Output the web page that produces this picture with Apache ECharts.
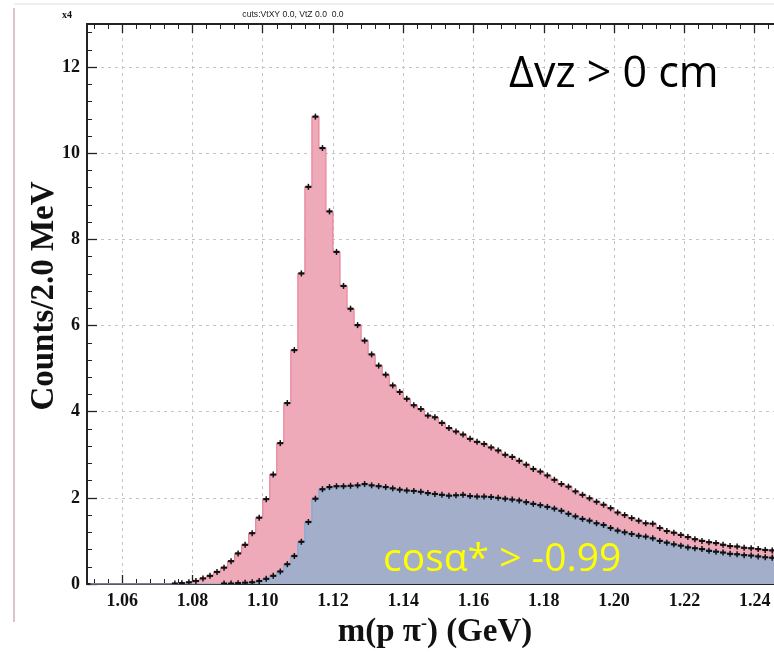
<!DOCTYPE html>
<html><head><meta charset="utf-8">
<script src="https://cdn.jsdelivr.net/npm/echarts@6/dist/echarts.min.js"></script>
<style>html,body{margin:0;padding:0;background:#fff}#c{width:774px;height:652px}</style>
</head><body><div id="c"></div>
<script>
// Histogram binning (GeV): 2 MeV bins starting at 1.050
const binStart = 1.050;
const binWidth = 0.002;

// Counts per bin, all candidates (pink)
const totalCounts = [0,0,0,0,0,0,0,0,0,0,0,0,
  0.01,0.02,0.04,0.07,0.13,0.19,0.28,0.38,0.53,0.71,
  0.91,1.18,1.54,1.97,2.54,3.27,4.20,5.43,7.21,9.22,
  10.85,10.12,8.65,7.71,6.92,6.39,6.01,5.65,5.33,5.07,
  4.86,4.61,4.46,4.30,4.15,4.06,3.91,3.87,3.74,3.62,
  3.54,3.47,3.37,3.30,3.25,3.17,3.10,3.00,2.95,2.86,
  2.77,2.67,2.61,2.52,2.42,2.32,2.26,2.15,2.07,1.99,
  1.91,1.84,1.76,1.66,1.60,1.53,1.47,1.41,1.40,1.30,
  1.23,1.19,1.14,1.09,1.04,1.00,0.97,0.95,0.91,0.88,
  0.87,0.84,0.83,0.81,0.79,0.78,0.76,0.75];

// Counts per bin, cos(alpha*) > -0.99 (blue)
const cutCounts = [0,0,0,0,0,0,0,0,0,0,0,0,0,0,0,0,0,0,0,
  0.01,0.01,0.02,0.03,0.04,0.07,0.12,0.19,0.29,0.46,
  0.65,0.98,1.44,1.98,2.20,2.25,2.27,2.27,2.28,2.29,
  2.32,2.29,2.27,2.25,2.22,2.19,2.17,2.16,2.14,2.11,
  2.09,2.07,2.05,2.06,2.07,2.04,2.03,2.03,2.02,2.00,
  1.98,1.96,1.94,1.90,1.86,1.83,1.79,1.75,1.70,1.63,
  1.57,1.51,1.47,1.41,1.37,1.30,1.24,1.20,1.16,1.12,
  1.10,1.06,1.00,0.96,0.92,0.89,0.85,0.83,0.81,0.77,
  0.75,0.73,0.70,0.69,0.67,0.66,0.64,0.62,0.61,0.60,0.59];

// Axis tick labels
const xTickValues = [1.06,1.08,1.10,1.12,1.14,1.16,1.18,1.20,1.22,1.24];
const yTickValues = [0,2,4,6,8,10,12];

// Visible axis range (the right side of the frame is cut by the picture edge)
const xMin = 1.05, xMax = 1.2455, yMin = 0, yMax = 13;

const centers = totalCounts.map((_, i) => +(binStart + binWidth * (i + 0.5)).toFixed(4));
const pairs = arr => arr.map((v, i) => [centers[i], v]);

// minor tick positions: 5 subdivisions of each major interval
const xMinor = [];
for (let m = -2; m <= 50; m++) { const v = +(1.06 + 0.004 * m).toFixed(4); if (m % 5 !== 0 && v > xMin && v < xMax) xMinor.push(v); }
const yMinor = [];
for (let m = 1; m <= 40; m++) { const v = +(0.4 * m).toFixed(2); if (m % 5 !== 0 && v < yMax) yMinor.push(v); }

function markerSeries(values, z) {
  return {
    type: 'custom', z: z, clip: true, silent: true,
    data: pairs(values).filter(d => d[1] > 0),
    renderItem: function (params, api) {
      const x = api.value(0), y = api.value(1);
      const c = api.coord([x, y]);
      const l = api.coord([x - binWidth / 2, y]);
      const r = api.coord([x + binWidth / 2, y]);
      return {
        type: 'group', children: [
          { type: 'line', shape: { x1: l[0] + 0.5, y1: c[1], x2: r[0] - 0.5, y2: c[1] }, style: { stroke: '#111', lineWidth: 2.2 } },
          { type: 'line', shape: { x1: c[0], y1: c[1] - 3, x2: c[0], y2: c[1] + 3 }, style: { stroke: '#111', lineWidth: 1.5 } }
        ]
      };
    }
  };
}

const chart = echarts.init(document.getElementById('c'), null, { renderer: 'canvas' });
const serif = '"Liberation Serif", "Times New Roman", serif';
const axisColor = '#222';

function xAx(pos, main) {
  return {
    type: 'value', min: xMin, max: xMax, splitNumber: 10, position: pos,
    axisLine: { show: main, onZero: false, lineStyle: { color: axisColor, width: 2 } },
    axisTick: { show: true, inside: true, length: main ? 9 : 5, customValues: main ? xTickValues : xMinor, lineStyle: { color: axisColor, width: main ? 1.3 : 1 } },
    minorTick: { show: false },
    axisLabel: (main && pos === 'bottom') ? { customValues: xTickValues, formatter: v => v.toFixed(2), fontFamily: serif, fontWeight: 'bold', fontSize: 18, color: '#111', margin: 8 } : { show: false },
    splitLine: (main && pos === 'bottom') ? { show: true, lineStyle: { color: '#c4c4c4', type: [3, 4], width: 1 } } : { show: false }
  };
}
function yAx(main) {
  return {
    type: 'value', min: yMin, max: yMax, interval: 2, position: 'left',
    axisLine: { show: main, onZero: false, lineStyle: { color: axisColor, width: 2 } },
    axisTick: { show: true, inside: true, length: main ? 10 : 5, customValues: main ? yTickValues : yMinor, lineStyle: { color: axisColor, width: main ? 1.3 : 1 } },
    minorTick: { show: false },
    axisLabel: main ? { customValues: yTickValues, fontFamily: serif, fontWeight: 'bold', fontSize: 18, color: '#111', margin: 7 } : { show: false },
    splitLine: main ? { show: true, lineStyle: { color: '#c4c4c4', type: [3, 4], width: 1 } } : { show: false }
  };
}

chart.setOption({
  backgroundColor: '#ffffff',
  animation: false,
  grid: { left: 87, top: 24, right: 0, height: 560, containLabel: false, outerBoundsMode: 'none' },
  xAxis: [xAx('bottom', true), xAx('top', true), xAx('bottom', false), xAx('top', false)],
  yAxis: [yAx(true), yAx(false)],
  series: [{
    type: 'line', step: 'middle', symbol: 'none', z: 2,
    data: pairs(totalCounts),
    lineStyle: { color: '#E8849A', width: 1.2 },
    areaStyle: { color: '#EEAAB8', opacity: 1 }
  }, {
    type: 'line', step: 'middle', symbol: 'none', z: 3,
    data: pairs(cutCounts),
    lineStyle: { color: '#7FAAD6', width: 1.2 },
    areaStyle: { color: '#A2AECA', opacity: 1 }
  },
  markerSeries(totalCounts, 5),
  markerSeries(cutCounts, 6)
  ],
  graphic: [
    { type: 'line', shape: { x1: 14, y1: 8, x2: 14, y2: 622 }, style: { stroke: '#b88a94', lineWidth: 1 }, z: 1 },
    { type: 'line', shape: { x1: 14, y1: 4, x2: 774, y2: 4 }, style: { stroke: '#dddddd', lineWidth: 1 }, z: 1 },
    { type: 'text', x: 62, y: 15, style: { text: 'x4', font: 'bold 10px ' + serif, fill: '#111', verticalAlign: 'middle' }, z: 20 },
    { type: 'text', x: 293, y: 15, style: { text: 'cuts:VtXY 0.0, VtZ 0.0  0.0', font: '8.6px "Liberation Sans", Arial, sans-serif', fill: '#222', align: 'center', verticalAlign: 'middle' }, z: 20 },
    { type: 'text', x: 509, y: 75, style: { text: 'Δvz > 0 cm', font: '43px "Open Sans", sans-serif', fill: '#000', verticalAlign: 'middle' }, z: 20 },
    { type: 'text', x: 383, y: 560, style: { text: 'cosα* > -0.99', font: '39px "Open Sans", sans-serif', fill: '#FFFF00', verticalAlign: 'middle' }, z: 20 },
    { type: 'text', x: 44, y: 296, rotation: Math.PI / 2, style: { text: 'Counts/2.0 MeV', font: 'bold 33px ' + serif, fill: '#111', align: 'center', verticalAlign: 'middle' }, z: 20 },
    { type: 'text', x: 435, y: 632, style: {
        text: '{a|m(p π}{s|-}{a|) (GeV)}', align: 'center', verticalAlign: 'middle',
        rich: { a: { font: 'bold 33px ' + serif, fill: '#111' }, s: { font: 'bold 18px ' + serif, fill: '#111', verticalAlign: 'top', padding: [0, 0, 14, 0] } }
      }, z: 20 }
  ]
});
</script>
</body></html>
